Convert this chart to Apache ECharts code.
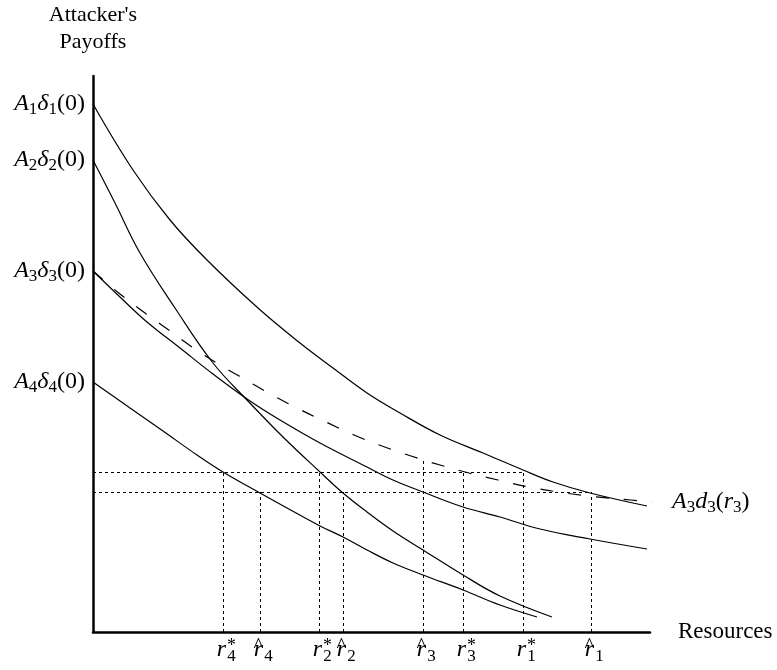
<!DOCTYPE html>
<html><head><meta charset="utf-8">
<script src="https://cdn.jsdelivr.net/npm/echarts@6/dist/echarts.min.js"></script>
<style>html,body{margin:0;padding:0;background:#fff}#c{width:777px;height:670px}</style>
</head><body><div id="c"></div>
<script>
// Payoff curves (resources, payoff) in chart units
const curve1 = [[0,528],[40,462],[77,412],[114,372],[165,324],[207,289],[240,264],[274,239],[307,219],[347,197],[390,179],[430,162],[460,150],[497,139],[554,126]];
const curve2 = [[0,472],[22,429],[47,379],[82,324],[120,269],[154,232],[190,195],[227,160],[250,139],[274,120],[300,101],[330,82],[370,57],[407,36],[459,15]];
const curve3 = [[0,361],[27,335],[54,310],[87,284],[120,258],[157,231],[187,212],[227,189],[274,165],[300,152],[330,140],[370,125],[407,115],[447,103],[497,93],[554,83]];
const curve4 = [[0,250],[37,224],[70,201],[104,177],[130,160],[167,139],[194,124],[227,106],[250,95],[274,82],[300,69],[330,57],[370,42],[407,27],[444,15]];
const curveD = [[0,361],[27,338],[52,319],[77,301],[102,283],[127,267],[153,252],[179,237],[206,223],[233,210],[261,197],[289,186],[318,176],[347,167],[376,159],[405,152],[436,145],[465,140],[495,136],[526,133],[562,130]];

// x tick labels (r*, r-hat)
const xTickValues = [130,167,226,250,330,370,430,498];
const xTickSubs   = ['4','4','2','2','3','3','1','1'];
const xTickMarks  = ['*','^','*','^','^','*','*','^'];
const xTickTops   = [160,140,160,140,173,160,160,140];
// horizontal guide levels
const hLineLevels = [160,140];
const hLineEnds   = [430,498];
// y tick labels
const yTickValues = [528,472,361,250];
const yTickSubs   = ['1','2','3','4'];

const SERIF = '"Liberation Serif","Times New Roman",serif';
const xMax = 557, yMax = 556;

const guideData = [];
xTickValues.forEach((x,i)=>guideData.push({coords:[[x,0],[x,xTickTops[i]]]}));
hLineLevels.forEach((y,i)=>guideData.push({coords:[[0,y],[hLineEnds[i],y]]}));

function solid(data){
  return {type:'line', data:data, smooth:0.4, symbol:'none', silent:true,
    lineStyle:{color:'#000', width:1.2}, z:3};
}

const chart = echarts.init(document.getElementById('c'), null, {renderer:'canvas'});
chart.setOption({
  animation:false,
  backgroundColor:'#fff',
  grid:[
    {left:93, right:127, top:76, bottom:38, outerBoundsMode:'none'},
    {left:93, right:127, top:76, bottom:38, outerBoundsMode:'none'}
  ],
  xAxis:[
    {type:'value', gridIndex:0, min:0, max:xMax,
     name:'Resources', nameLocation:'end', nameGap:28,
     nameTextStyle:{fontFamily:SERIF, fontSize:23, color:'#000'},
     axisLine:{show:true, lineStyle:{color:'#000', width:2.5}},
     axisTick:{show:false}, splitLine:{show:false},
     axisLabel:{customValues:xTickValues, margin:3, color:'#000',
       formatter:function(v){
         const i = xTickValues.indexOf(v);
         return '{sp| }{r|r}{s|' + xTickSubs[i] + '}';
       },
       rich:{
         sp:{width:7, fontSize:10, lineHeight:10},
         r:{fontFamily:SERIF, fontStyle:'italic', fontSize:24, lineHeight:30, width:10, align:'center'},
         s:{fontFamily:SERIF, fontSize:17, lineHeight:17, verticalAlign:'bottom', width:10, align:'left'}
       }}
    },
    {type:'value', gridIndex:1, min:0, max:xMax,
     axisLine:{show:false}, axisTick:{show:false}, splitLine:{show:false},
     axisLabel:{customValues:xTickValues, margin:5, color:'#000',
       formatter:function(v){
         const i = xTickValues.indexOf(v);
         if (xTickMarks[i] === '^') return '{sp| }{h|^}{w| }';
         return '{sp| }{w| }{a|*}';
       },
       rich:{
         sp:{width:7, fontSize:10, lineHeight:18},
         w:{width:10, fontSize:10, lineHeight:18},
         h:{fontFamily:SERIF, fontSize:21, lineHeight:18, width:10, align:'center'},
         a:{fontFamily:SERIF, fontSize:18, lineHeight:18, width:10, align:'left'}
       }}
    }
  ],
  yAxis:[
    {type:'value', gridIndex:0, min:0, max:yMax,
     name:"Attacker's\nPayoffs", nameLocation:'end', nameGap:20,
     nameTextStyle:{fontFamily:SERIF, fontSize:22, lineHeight:27, color:'#000', align:'center'},
     axisLine:{show:true, lineStyle:{color:'#000', width:2.5}},
     axisTick:{show:false}, splitLine:{show:false},
     axisLabel:{customValues:yTickValues, margin:8, color:'#000',
       formatter:function(v){
         const i = yTickValues.indexOf(v);
         const k = yTickSubs[i];
         return '{A|A}{s|' + k + '}{d|δ}{s|' + k + '}{p|(0)}';
       },
       rich:{
         A:{fontFamily:SERIF, fontStyle:'italic', fontSize:24, lineHeight:28},
         d:{fontFamily:SERIF, fontStyle:'italic', fontSize:24, lineHeight:28},
         p:{fontFamily:SERIF, fontSize:24, lineHeight:28},
         s:{fontFamily:SERIF, fontSize:17, lineHeight:17, verticalAlign:'bottom'}
       }}
    },
    {type:'value', gridIndex:1, min:0, max:yMax, show:false}
  ],
  series:[
    solid(curve1), solid(curve2), solid(curve3), solid(curve4),
    {type:'line', data:curveD, smooth:0.4, symbol:'none', silent:true, clip:false,
     lineStyle:{color:'#000', width:1.2, type:[13,15]}, z:3,
     endLabel:{show:true, distance:20, color:'#000',
       formatter:'{A|A}{s|3}{A|d}{s|3}{p|(}{A|r}{s|3}{p|)}',
       rich:{
         A:{fontFamily:SERIF, fontStyle:'italic', fontSize:24, lineHeight:28},
         p:{fontFamily:SERIF, fontSize:24, lineHeight:28},
         s:{fontFamily:SERIF, fontSize:17, lineHeight:17, verticalAlign:'bottom'}
       }}
    },
    {type:'lines', coordinateSystem:'cartesian2d', xAxisIndex:0, yAxisIndex:0, silent:true,
     data:guideData, lineStyle:{color:'#000', width:1, type:[3,3], opacity:1}, z:2}
  ]
});
</script>
</body></html>
